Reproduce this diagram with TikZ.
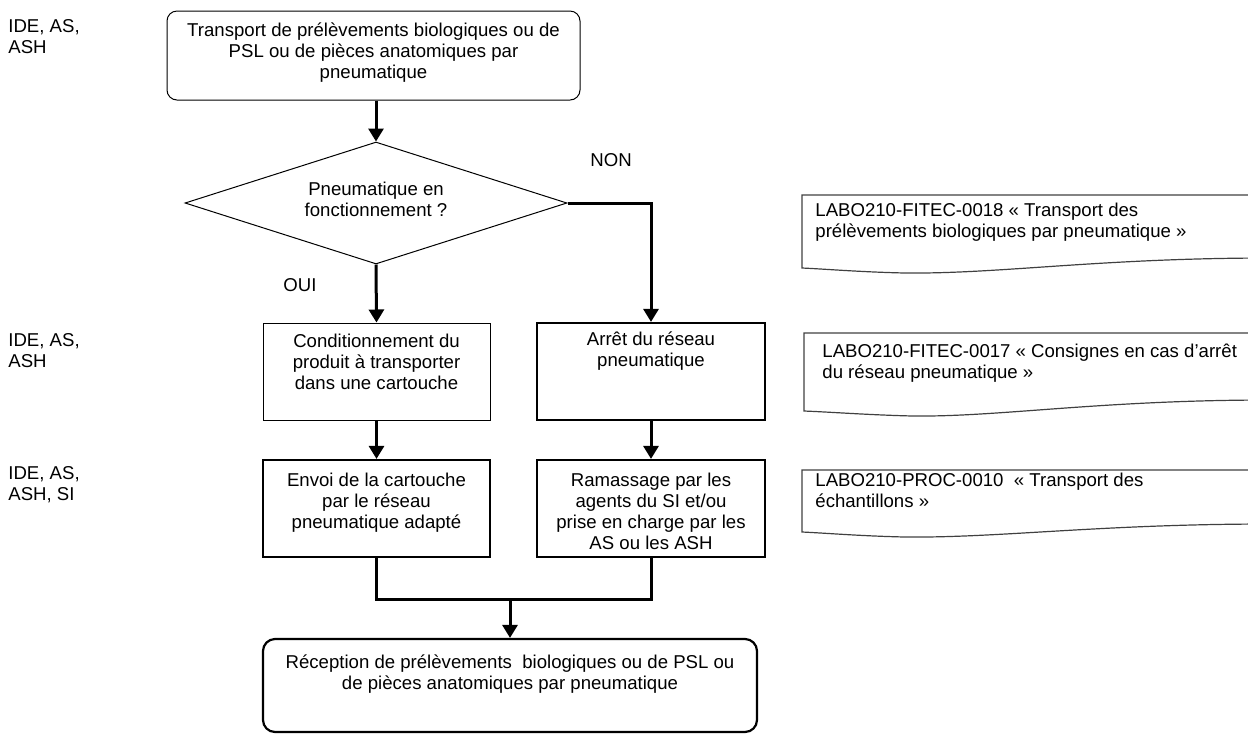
\documentclass[tikz,border=0pt]{standalone}
\usepackage{fontspec}
\setmainfont{Liberation Sans}
\usetikzlibrary{shapes.geometric,arrows.meta,calc}
\begin{document}
\begin{tikzpicture}[x=0.5pt,y=-0.5pt,
  txt/.style={font=\fontsize{9.3}{10.5}\selectfont, inner sep=0pt, align=center, anchor=base},
  ltxt/.style={txt, align=left, anchor=base west},
  thinbox/.style={draw, line width=0.5pt, inner sep=0pt},
  thickbox/.style={draw, line width=1.1pt, inner sep=0pt},
  conn/.style={line width=1.5pt},
  arr/.style={conn, -{Triangle[length=6.5pt,width=7.5pt]}},
  docshape/.style={draw=black!75, line width=0.6pt},
]
\useasboundingbox (0,0) rectangle (1248,736);
\clip (0,0) rectangle (1248,736);

% side labels (anchor = baseline of last line)
\node[ltxt] (r1) at (8,53) {IDE, AS,\\ASH};
\node[ltxt] (r2) at (8,367) {IDE, AS,\\ASH};
\node[ltxt] (r3) at (8,500) {IDE, AS,\\ASH, SI};

% top box
\node[thinbox, rounded corners=5pt, minimum width=206.5pt, minimum height=44.5pt] (top) at (373.5,55.5) {};
\node[txt] (toptxt) at ($(top.north)+(0,68)$) {Transport de prélèvements biologiques ou de\\PSL ou de pièces anatomiques par\\pneumatique};

% decision
\node[draw, diamond, line width=0.5pt, inner sep=0pt, minimum width=191pt, minimum height=61pt] (dia) at (376,203) {};
\node[txt] (diatxt) at (376,216) {Pneumatique en\\fonctionnement ?};
\node[ltxt] (non) at (590,166) {NON};
\node[ltxt] (oui) at (283,291) {OUI};

% boxes
\node[thinbox, minimum width=113.5pt, minimum height=48.5pt] (b1) at (376.5,371.5) {};
\node[txt] (b1txt) at ($(b1.north)+(0,67)$) {Conditionnement du\\produit à transporter\\dans une cartouche};
\node[thickbox, minimum width=114pt, minimum height=48.5pt] (b2) at (651,371.5) {};
\node[txt] (b2txt) at ($(b2.north)+(0,45)$) {Arrêt du réseau\\pneumatique};
\node[thickbox, minimum width=113.5pt, minimum height=48.5pt] (b3) at (376.5,508.5) {};
\node[txt] (b3txt) at ($(b3.north)+(0,70)$) {Envoi de la cartouche\\par le réseau\\pneumatique adapté};
\node[thickbox, minimum width=114pt, minimum height=48.5pt] (b4) at (651,508.5) {};
\node[txt] (b4txt) at ($(b4.north)+(0,91)$) {Ramassage par les\\agents du SI et/ou\\prise en charge par les\\AS ou les ASH};

% bottom box
\node[thickbox, rounded corners=6pt, minimum width=247pt, minimum height=46.5pt] (bot) at (510,685.5) {};
\node[txt] (bottxt) at ($(bot.north)+(0,52)$) {Réception de prélèvements~ biologiques ou de PSL ou\\de pièces anatomiques par pneumatique};

% connectors
\draw[arr] (top.south -| dia.north) -- (dia.north);
\draw[arr] (dia.south) -- (b1.north);
\draw[arr] (dia.east) -| (b2.north);
\draw[arr] (b1.south) -- (b3.north);
\draw[arr] (b2.south) -- (b4.north);
\coordinate (m) at (510,599);
\draw[conn] (b3.south) |- (m) -| (b4.south);
\draw[arr] (m) -- (bot.north);

% documents
\draw[docshape] (802,195) -- (1270,195) -- (1270,258) .. controls (1100,258) and (1000,274) .. (905,273) .. controls (860,272) and (825,269) .. (802,268) -- cycle;
\node[ltxt] (d1) at (815,237) {LABO210-FITEC-0018 « Transport des\\prélèvements biologiques par pneumatique »};

\draw[docshape] (804,333) -- (1270,333) -- (1270,400) .. controls (1100,400) and (1000,417) .. (913,416) .. controls (870,415) and (830,412) .. (804,411) -- cycle;
\node[ltxt] (d2) at (822,378) {LABO210-FITEC-0017 « Consignes en cas d’arrêt\\du réseau pneumatique »};

\draw[docshape] (802,470) -- (1270,470) -- (1270,524) .. controls (1100,524) and (1000,538) .. (905,537) .. controls (860,536) and (825,533) .. (802,532) -- cycle;
\node[ltxt] (d3) at (815,507) {LABO210-PROC-0010~ « Transport des\\échantillons »};
\end{tikzpicture}
\end{document}
